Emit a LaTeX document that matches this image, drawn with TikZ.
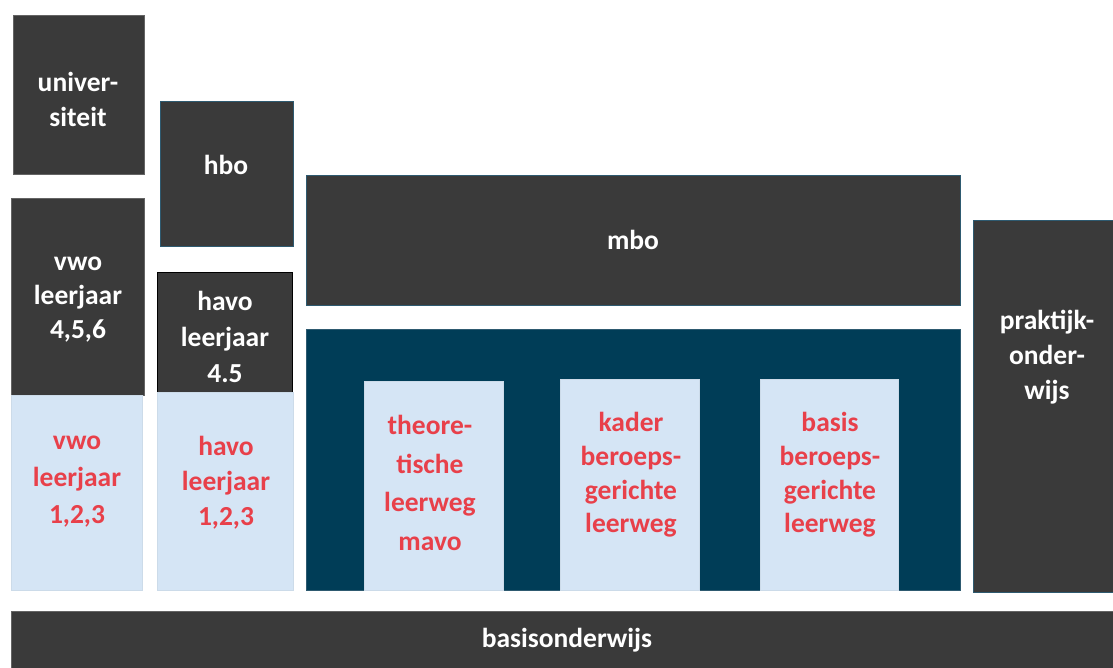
\documentclass[tikz,border=0pt]{standalone}
\usepackage{fontspec}
\setmainfont{Carlito}
\definecolor{dgrey}{HTML}{3A3A3A}
\definecolor{dblue}{HTML}{003D57}
\definecolor{lblue}{HTML}{D5E5F5}
\definecolor{redtxt}{HTML}{E8404A}
\definecolor{edgeblue}{HTML}{2E5A70}
\begin{document}
\begin{tikzpicture}[x=1pt,y=-1pt,
  box/.style={anchor=north west,inner sep=0pt,outer sep=0pt,line width=0.8pt},
  greybox/.style={box,fill=dgrey,draw=gray!60!dgrey},
  bluegrey/.style={box,fill=dgrey,draw=edgeblue},
  bluebox/.style={box,fill=dblue,draw=edgeblue},
  lightbox/.style={box,fill=lblue,draw=lblue!90!gray},
  wtxt/.style={text=white,align=center,inner sep=0pt,font=\fontsize{27.5}{35}\selectfont\bfseries},
  rtxt/.style={text=redtxt,align=center,inner sep=0pt,font=\fontsize{27.5}{37}\selectfont\bfseries}
]
\useasboundingbox (0,0) rectangle (1113,668);
% boxes
\node[greybox,minimum width=131pt,minimum height=159pt] (uni) at (13,15) {};
\node[bluegrey,minimum width=133pt,minimum height=145pt] (hbo) at (160,101) {};
\node[bluegrey,minimum width=654pt,minimum height=130pt] (mbo) at (306,175) {};
\node[greybox,minimum width=133pt,minimum height=197pt] (vwoh) at (11,198) {};
\node[box,fill=dgrey,draw=black,minimum width=135pt,minimum height=120pt] (havoh) at (157,272) {};
\node[lightbox,minimum width=131pt,minimum height=195pt] (vwol) at (11,395) {};
\node[lightbox,minimum width=136pt,minimum height=198pt] (havol) at (157,392) {};
\node[bluebox,minimum width=654pt,minimum height=261pt] (vmbo) at (306,329) {};
\node[lightbox,minimum width=139pt,minimum height=209pt] (tl) at (364,381) {};
\node[lightbox,minimum width=139pt,minimum height=211pt] (kl) at (560,379) {};
\node[lightbox,minimum width=138pt,minimum height=211pt] (bl) at (760,379) {};
\node[bluegrey,minimum width=145pt,minimum height=372pt] (pro) at (973,220) {};
\node[greybox,minimum width=1106pt,minimum height=60pt] (bao) at (11,611) {};
% texts
\node[wtxt] (tuni) at (78,99) {univer-\\siteit};
\node[wtxt] (thbo) at (226,165) {hbo};
\node[wtxt] (tmbo) at (633,240) {mbo};
\node[wtxt,font=\fontsize{27.5}{34}\selectfont\bfseries] (tvwoh) at (78,300) {vwo\\leerjaar\\4,5,6};
\node[wtxt,font=\fontsize{27.5}{36}\selectfont\bfseries] (thavoh) at (225,337) {havo\\leerjaar\\4.5};
\node[rtxt] (tvwol) at (77,482) {vwo\\leerjaar\\1,2,3};
\node[rtxt,font=\fontsize{27.5}{35}\selectfont\bfseries] (thavol) at (226,483) {havo\\leerjaar\\1,2,3};
\node[rtxt,font=\fontsize{27.5}{38.5}\selectfont\bfseries] (ttl) at (430,483) {theore-\\tische\\leerweg\\mavo};
\node[rtxt,font=\fontsize{27.5}{33.7}\selectfont\bfseries] (tkl) at (631,475) {kader\\beroeps-\\gerichte\\leerweg};
\node[rtxt,font=\fontsize{27.5}{33.7}\selectfont\bfseries] (tbl) at (830,475) {basis\\beroeps-\\gerichte\\leerweg};
\node[wtxt] (tpro) at (1047,357) {praktijk-\\onder-\\wijs};
\node[wtxt] (tbao) at (567,640) {basisonderwijs};
\end{tikzpicture}
\end{document}
